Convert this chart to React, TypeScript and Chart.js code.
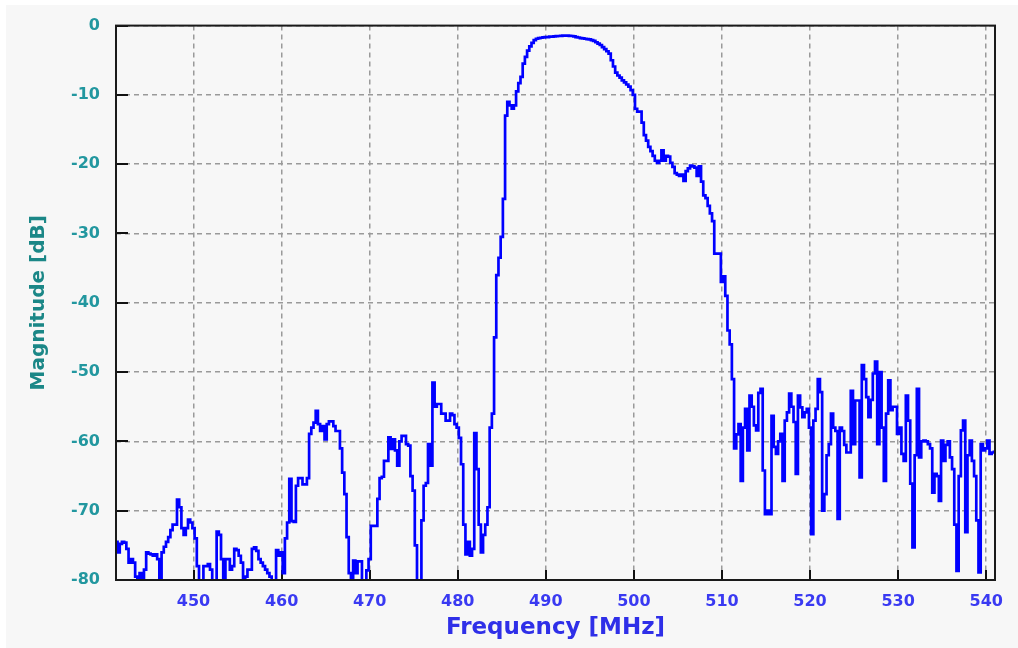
import React, { useEffect, useRef } from "react";
import { Chart, registerables } from "chart.js";

Chart.register(...registerables);

// Frequency grid (MHz): first sample and spacing of the sweep
const FREQ_START = 441.0;
const FREQ_STEP = 0.25;

// Magnitude [dB], 4 samples per MHz, one array per 10 MHz
const MAG_441_450 = [
  -74, -74.5, -76, -74.8,
  -74.5, -74.6, -75.5, -77.5,
  -77, -77.5, -79.5, -82,
  -79, -80.5, -78.5, -76,
  -76.2, -76.3, -76.5, -76.3,
  -77, -82, -76, -75.2,
  -74.5, -73.8, -72.8, -72,
  -72, -68.4, -69.5, -72.5,
  -73.5, -72.5, -71.3, -71.7,
  -72.5, -74, -78, -82,
];
const MAG_451_460 = [
  -82, -78, -78, -77.7,
  -78.5, -82, -82, -73,
  -73.5, -77, -82, -77,
  -77, -78.5, -78, -75.5,
  -75.7, -76.5, -77.5, -80,
  -79.5, -78.5, -78.5, -75.5,
  -75.3, -75.8, -77, -77.5,
  -78, -78.5, -79, -79.5,
  -82, -82, -75.7, -76.5,
  -76, -79, -74, -71.7,
];
const MAG_461_470 = [
  -65.4, -71.5, -71.6, -66.4,
  -65.3, -65.3, -66.2, -66.2,
  -65.3, -58.9, -58, -57.3,
  -55.6, -57.5, -58.5, -57.8,
  -59.7, -57.5, -57.1, -57.1,
  -57.8, -58.5, -58.5, -61,
  -64.5, -67.6, -73.8, -79,
  -82, -77.2, -79, -77.3,
  -77.3, -82, -82, -78.6,
  -77, -72.2, -72.2, -72.2,
];
const MAG_471_480 = [
  -68.3, -65.3, -65.1, -62.8,
  -62.8, -59.4, -61.1, -59.7,
  -61.3, -63.5, -60, -59.2,
  -59.2, -60.4, -60.6, -65,
  -67.1, -75, -82, -82,
  -71.4, -66.4, -66, -60.4,
  -63.5, -51.5, -55, -54.6,
  -54.6, -56, -56, -57,
  -57, -56, -56.2, -57.5,
  -58, -59.5, -63.3, -72,
];
const MAG_481_490 = [
  -76.3, -74.5, -76.5, -75.5,
  -58.8, -64, -72, -76,
  -73.5, -72, -69.5, -58,
  -56, -45, -36, -33.5,
  -30.5, -25, -13, -11,
  -11.5, -12, -11.5, -9.5,
  -8.3, -7.4, -5.5, -4.5,
  -3.6, -3, -2.5, -2.1,
  -1.9, -1.8, -1.75, -1.7,
  -1.67, -1.65, -1.6, -1.58,
];
const MAG_491_500 = [
  -1.55, -1.53, -1.5, -1.48,
  -1.45, -1.45, -1.45, -1.47,
  -1.5, -1.55, -1.67, -1.72,
  -1.8, -1.85, -1.9, -1.95,
  -2.0, -2.1, -2.2, -2.4,
  -2.6, -2.8, -3.1, -3.4,
  -3.7, -4.05, -5, -5.9,
  -6.8, -7.2, -7.5, -7.9,
  -8.2, -8.5, -8.8, -9.3,
  -10, -12, -12.4, -12.4,
];
const MAG_501_510 = [
  -14, -15.8, -16.6, -17.5,
  -18.1, -18.8, -19.5, -19.8,
  -19.5, -18, -19.5, -18.8,
  -18.9, -19.8, -20.4, -21.3,
  -21.5, -21.7, -21.5, -22.4,
  -21, -20.6, -20.2, -20.3,
  -20.5, -21.7, -20.3, -22.5,
  -24.5, -24.9, -26, -27.1,
  -28.2, -32.9, -32.9, -32.9,
  -37, -36.2, -39, -44,
];
const MAG_511_520 = [
  -46, -51, -61, -59,
  -57.5, -65.7, -58, -55.3,
  -61.3, -53.4, -55, -57.7,
  -58.4, -53, -52.4, -64.2,
  -70.5, -70, -70.5, -56.3,
  -60.8, -61.8, -60, -58.9,
  -65.7, -57, -55.8, -53.1,
  -55, -57.2, -64.7, -53.4,
  -55.1, -56.5, -55.8, -55.3,
  -58, -73.4, -57, -55.3,
];
const MAG_521_530 = [
  -51, -52.9, -70, -67.6,
  -62, -60.4, -56, -58,
  -58.5, -71.2, -58, -58.5,
  -60.5, -61.6, -61.6, -52.7,
  -60.4, -54.1, -54.1, -65.2,
  -49, -51, -53.6, -56.5,
  -54, -50.2, -48.5, -60.4,
  -50, -58, -65.7, -56,
  -51.2, -55.5, -55, -55,
  -58.9, -58, -61.8, -62.8,
];
const MAG_531_541 = [
  -53.4, -57, -66.1, -75.3,
  -62, -52.4, -62.3, -60,
  -59.9, -60, -60.4, -61,
  -67.4, -64.7, -65, -68.6,
  -59.9, -62.8, -60.5, -60,
  -62.3, -64, -72, -78.7,
  -65, -58.4, -57, -73.1,
  -62, -59.9, -62.8, -65,
  -71.4, -78.9, -60.4, -61.3,
  -61, -59.9, -61.8, -61.6,
  -61.5,
];

const X_TICKS = [450, 460, 470, 480, 490, 500, 510, 520, 530, 540];
const Y_TICKS = [0, -10, -20, -30, -40, -50, -60, -70, -80];
const X_MIN = 441.2;
const X_MAX = 541;
const Y_MIN = -80;
const Y_MAX = 0;

const X_TITLE = "Frequency [MHz]";
const Y_TITLE = "Magnitude [dB]";

const MAGNITUDES = [
  ...MAG_441_450,
  ...MAG_451_460,
  ...MAG_461_470,
  ...MAG_471_480,
  ...MAG_481_490,
  ...MAG_491_500,
  ...MAG_501_510,
  ...MAG_511_520,
  ...MAG_521_530,
  ...MAG_531_541,
];

const FONT = "'DejaVu Sans', Verdana, sans-serif";

const framePlugin = {
  id: "frame",
  beforeDatasetsDraw(chart: any) {
    const { ctx, chartArea: a, scales } = chart;
    ctx.save();
    ctx.strokeStyle = "#111";
    ctx.lineWidth = 2;
    ctx.beginPath();
    for (const v of Y_TICKS) {
      const y = Math.round(scales.y.getPixelForValue(v));
      ctx.moveTo(a.left, y);
      ctx.lineTo(a.left + 12, y);
    }
    for (const v of X_TICKS) {
      const x = Math.round(scales.x.getPixelForValue(v));
      ctx.moveTo(x, a.bottom);
      ctx.lineTo(x, a.bottom - 10);
    }
    ctx.stroke();
    ctx.restore();
  },
  afterDatasetsDraw(chart: any) {
    const { ctx, chartArea: a } = chart;
    ctx.save();
    ctx.strokeStyle = "#1a1a1a";
    ctx.lineWidth = 2;
    ctx.strokeRect(a.left, a.top, a.right - a.left, a.bottom - a.top);
    ctx.restore();
  },
};

export default function App() {
  const ref = useRef<HTMLCanvasElement | null>(null);

  useEffect(() => {
    document.body.style.margin = "0";
    const canvas = ref.current;
    if (!canvas) return;
    const points = MAGNITUDES.map((m, i) => ({ x: FREQ_START + i * FREQ_STEP, y: m }));
    const chart = new Chart(canvas, {
      type: "line",
      data: {
        datasets: [
          {
            data: points,
            borderColor: "#0000ff",
            borderWidth: 2.7,
            pointRadius: 0,
            stepped: "middle",
            fill: false,
          },
        ],
      },
      options: {
        animation: false,
        responsive: false,
        maintainAspectRatio: false,
        layout: { padding: { left: 0, top: 25, right: 23, bottom: 0 } },
        plugins: {
          legend: { display: false },
          tooltip: { enabled: false },
        },
        scales: {
          x: {
            type: "linear",
            min: X_MIN,
            max: X_MAX,
            afterBuildTicks: (scale: any) => {
              scale.ticks = X_TICKS.map((v) => ({ value: v }));
            },
            afterFit: (scale: any) => {
              scale.height = 68;
            },
            grid: { color: "#9a9a9a", lineWidth: 1.5, drawTicks: false },
            border: { display: false, dash: [5, 4] },
            ticks: {
              color: "#3a3af2",
              font: { family: FONT, size: 16, weight: "bold" },
              padding: 12,
              maxRotation: 0,
              callback: (v: any) => String(v),
            },
            title: {
              display: true,
              text: X_TITLE,
              color: "#2f2fe8",
              font: { family: FONT, size: 23, weight: "bold" },
              padding: { top: 0, bottom: 6 },
            },
          },
          y: {
            type: "linear",
            min: Y_MIN,
            max: Y_MAX,
            afterBuildTicks: (scale: any) => {
              scale.ticks = Y_TICKS.map((v) => ({ value: v }));
            },
            afterFit: (scale: any) => {
              scale.width = 116;
            },
            grid: { color: "#9a9a9a", lineWidth: 1.5, drawTicks: false },
            border: { display: false, dash: [5, 4] },
            ticks: {
              color: "#22979f",
              font: { family: FONT, size: 16, weight: "bold" },
              padding: 16,
              callback: (v: any) => String(v),
            },
            title: {
              display: true,
              text: Y_TITLE,
              color: "#1b8787",
              font: { family: FONT, size: 20, weight: "bold" },
              padding: { top: 27, bottom: 0 },
            },
          },
        },
      },
      plugins: [framePlugin],
    });
    return () => chart.destroy();
  }, []);

  return (
    <div style={{ position: "absolute", left: 0, top: 0, width: 1018, height: 648, background: "#ffffff", overflow: "hidden" }}>
      <div style={{ position: "absolute", left: 6, top: 5, right: 0, bottom: 0, background: "#f7f7f7" }} />
      <canvas ref={ref} width={1018} height={648} style={{ position: "absolute", left: 0, top: 0, display: "block" }} />
    </div>
  );
}
